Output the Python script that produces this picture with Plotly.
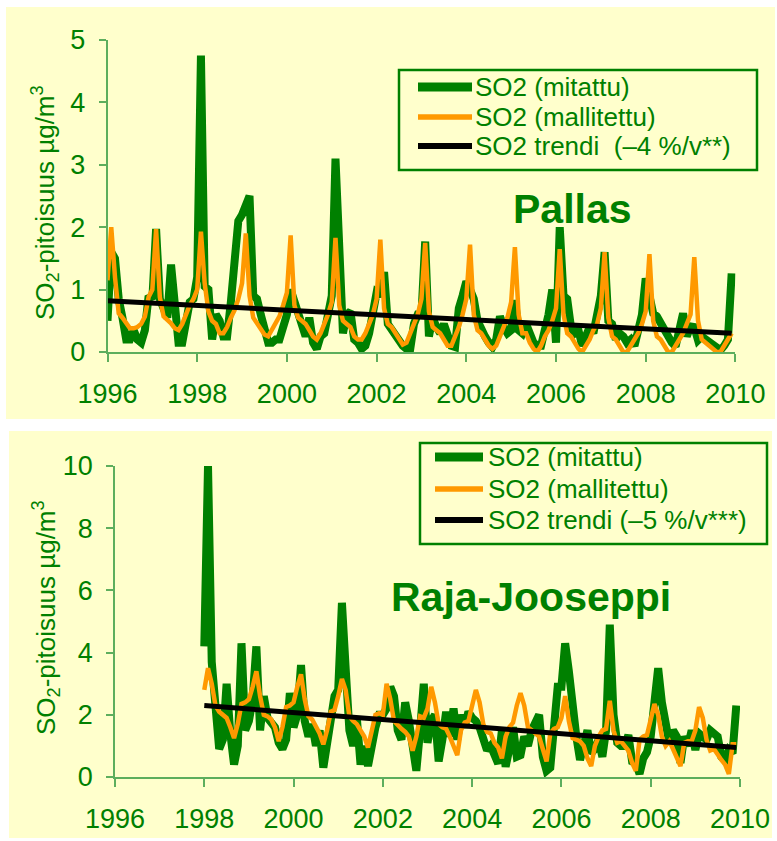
import plotly.graph_objects as go

# ---------------- data ----------------
pallas_years = list(range(1996, 2010))
pallas_measured = [
    0.5, 1.6, 1.5, 0.85, 0.55, 0.2, 0.2, 0.35, 0.2, 0.15, 0.35, 0.9,      # 1996
    0.85, 1.97, 0.85, 0.7, 0.55, 1.4, 0.6, 0.15, 0.15, 0.45, 0.8, 0.85,   # 1997
    1.2, 4.75, 1.05, 1.0, 0.2, 0.6, 0.5, 0.25, 0.25, 0.8, 1.37, 2.1,      # 1998
    2.2, 2.35, 2.5, 0.9, 0.85, 0.6, 0.3, 0.15, 0.15, 0.2, 0.2, 0.45,      # 1999
    0.6, 1.0, 0.8, 0.6, 0.5, 0.25, 0.55, 0.15, 0.05, 0.25, 0.3, 0.7,      # 2000
    0.9, 3.1, 1.3, 0.3, 0.6, 0.65, 0.2, 0.15, 0.05, 0.1, 0.3, 0.6,        # 2001
    0.95, 0.9, 1.28, 0.45, 0.35, 0.3, 0.2, 0.1, 0.05, 0.05, 0.45, 0.6,    # 2002
    0.6, 1.77, 0.25, 0.55, 0.4, 0.3, 0.45, 0.25, 0.1, 0.08, 0.7, 0.9,     # 2003
    1.13, 1.0, 0.85, 0.5, 0.35, 0.25, 0.15, 0.08, 0.2, 0.57, 0.4, 0.3,    # 2004
    0.35, 0.83, 0.35, 0.3, 0.45, 0.3, 0.15, 0.1, 0.1, 0.35, 0.6, 1.0,     # 2005
    0.15, 2.0, 0.9, 0.85, 0.4, 0.3, 0.35, 0.1, 0.25, 0.4, 0.3, 0.55,      # 2006
    0.9, 1.6, 0.5, 0.45, 0.2, 0.3, 0.25, 0.15, 0.2, 0.1, 0.3, 0.6,        # 2007
    1.18, 0.8, 0.62, 0.57, 0.45, 0.35, 0.2, 0.15, 0.09, 0.35, 0.62, 0.25, # 2008
    0.41, 0.4, 0.19, 0.25, 0.2, 0.15, 0.1, 0.05, 0.03, 0.1, 0.2, 1.26,    # 2009
]
pallas_modelled = [
    1.15, 2.0, 1.2, 0.62, 0.55, 0.45, 0.38, 0.38, 0.4, 0.45, 0.57, 0.88,  # 1996
    1.0, 1.97, 0.88, 0.57, 0.52, 0.46, 0.38, 0.35, 0.45, 0.6, 0.75, 0.85, # 1997
    1.0, 1.93, 1.1, 0.65, 0.5, 0.45, 0.3, 0.3, 0.4, 0.55, 0.67, 0.85,     # 1998
    1.1, 1.9, 0.9, 0.55, 0.45, 0.35, 0.28, 0.25, 0.35, 0.45, 0.57, 0.75,  # 1999
    0.95, 1.87, 0.75, 0.55, 0.5, 0.45, 0.35, 0.25, 0.2, 0.3, 0.45, 0.6,   # 2000
    0.8, 1.83, 0.75, 0.5, 0.45, 0.4, 0.25, 0.2, 0.2, 0.3, 0.45, 0.6,      # 2001
    0.85, 1.8, 0.7, 0.45, 0.4, 0.3, 0.2, 0.12, 0.15, 0.3, 0.45, 0.6,      # 2002
    0.85, 1.75, 0.65, 0.4, 0.35, 0.3, 0.2, 0.1, 0.1, 0.25, 0.4, 0.6,      # 2003
    0.85, 1.72, 0.6, 0.35, 0.3, 0.2, 0.1, 0.05, 0.1, 0.25, 0.4, 0.55,     # 2004
    0.8, 1.68, 0.6, 0.3, 0.3, 0.15, 0.05, 0.0, 0.1, 0.25, 0.35, 0.5,      # 2005
    0.7, 1.65, 0.6, 0.3, 0.25, 0.15, 0.05, 0.0, 0.1, 0.2, 0.35, 0.45,     # 2006
    0.7, 1.6, 0.55, 0.25, 0.2, 0.1, 0.0, 0.0, 0.1, 0.2, 0.3, 0.45,        # 2007
    0.65, 1.57, 0.5, 0.25, 0.2, 0.1, 0.0, 0.0, 0.1, 0.2, 0.3, 0.45,       # 2008
    0.6, 1.52, 0.5, 0.2, 0.15, 0.1, 0.05, 0.0, 0.0, 0.1, 0.2, 0.3,        # 2009
]
pallas_trend = [0.82, 0.30]   # first and last month

raja_years = list(range(1998, 2010))
raja_measured = [
    4.2, 10.0, 3.7, 2.2, 0.9, 1.2, 3.0, 1.4, 0.4, 1.0, 4.3, 1.5,         # 1998
    1.8, 2.5, 4.2, 1.5, 2.6, 1.9, 1.7, 1.6, 1.1, 0.9, 1.2, 2.7,          # 1999
    1.6, 2.0, 3.6, 1.8, 1.3, 1.7, 1.0, 1.5, 0.3, 1.0, 1.8, 2.6,          # 2000
    2.8, 5.6, 3.5, 1.5, 1.0, 1.9, 0.4, 1.0, 0.35, 1.2, 1.6, 2.0,         # 2001
    2.0, 2.2, 2.9, 2.6, 1.5, 1.2, 2.4, 1.8, 0.9, 0.2, 1.5, 3.0,          # 2002
    1.1, 1.8, 2.0, 0.5, 1.2, 2.1, 1.3, 2.2, 1.2, 2.0, 1.6, 2.1,          # 2003
    1.9, 1.8, 1.6, 1.2, 0.86, 1.0, 0.65, 0.43, 1.5, 0.33, 0.9, 1.6,      # 2004
    0.65, 0.7, 1.3, 1.0, 1.5, 1.7, 2.0, 0.65, 0.2, 0.3, 1.8, 2.9,        # 2005
    2.9, 4.3, 3.4, 2.1, 1.3, 0.55, 1.0, 1.5, 0.76, 0.9, 1.2, 0.65,       # 2006
    1.5, 4.9, 2.0, 1.1, 1.0, 1.0, 1.35, 0.5, 0.45, 0.1, 0.6, 0.8,        # 2007
    1.3, 2.8, 3.5, 2.4, 1.7, 1.1, 1.5, 1.3, 0.45, 1.3, 1.0, 1.5,         # 2008
    0.87, 1.4, 1.3, 1.2, 1.5, 1.4, 1.3, 0.65, 0.55, 0.87, 0.76, 2.3,     # 2009
]
raja_modelled = [
    2.8, 3.5, 3.0, 2.3, 2.1, 2.0, 1.9, 1.6, 1.25, 1.7, 2.35, 2.4,        # 1998
    2.5, 2.9, 3.4, 2.6, 2.0, 1.95, 1.85, 1.6, 1.15, 1.6, 2.25, 2.3,      # 1999
    2.4, 2.9, 3.3, 2.5, 1.95, 1.85, 1.6, 1.4, 1.05, 1.5, 2.1, 2.15,      # 2000
    2.6, 3.15, 2.8, 1.95, 1.8, 1.7, 1.5, 1.3, 0.95, 1.5, 2.0, 2.05,      # 2001
    2.0, 3.0, 2.5, 1.8, 1.65, 1.55, 1.45, 1.3, 0.85, 1.3, 1.95, 1.9,     # 2002
    2.2, 2.9, 2.4, 1.7, 1.6, 1.55, 1.3, 1.0, 0.7, 1.5, 1.75, 1.8,        # 2003
    2.3, 2.8, 2.4, 1.7, 1.45, 1.4, 1.1, 0.95, 0.6, 1.3, 1.6, 1.75,       # 2004
    2.3, 2.7, 2.3, 1.6, 1.5, 1.4, 1.3, 0.9, 0.5, 1.4, 1.55, 1.6,         # 2005
    1.9, 2.6, 1.8, 1.25, 1.2, 1.15, 1.0, 0.6, 0.35, 1.0, 1.3, 1.5,       # 2006
    1.55, 2.45, 1.5, 1.1, 1.15, 1.0, 0.85, 0.45, 0.2, 1.2, 1.3, 1.35,    # 2007
    1.8, 2.35, 2.0, 1.3, 1.0, 1.15, 0.9, 0.6, 0.35, 1.1, 1.15, 1.15,     # 2008
    1.5, 2.25, 1.9, 1.2, 0.85, 0.9, 0.7, 0.55, 0.4, 0.1, 1.05, 1.05,     # 2009
]
raja_trend = [2.3, 0.95]

x_ticks = list(range(1996, 2011, 2))
series_names = ["SO2 (mitattu)", "SO2 (mallitettu)"]
trend_names = ["SO2 trendi\u00a0\u00a0(\u20134 %/v**)", "SO2 trendi (\u20135 %/v***)"]
titles = ["Pallas", "Raja-Jooseppi"]

# ---------------- styling ----------------
W, H = 777, 841
GREEN = "#008000"
ORANGE = "#FF9900"
AXIS = "#5DAE5D"
BG = "#FFFFCC"
FONT = "Liberation Sans, Arial, sans-serif"
COLORS = [GREEN, ORANGE, "black"]
WIDTHS = [8, 4.5, 5]


def months(years):
    return [y + m / 12 for y in years for m in range(12)]


def fx(p):
    return p / W


def fy(p):
    return 1 - p / H


px_ = months(pallas_years)
rx_ = months(raja_years)

fig = go.Figure()


def add_station(xs, meas, model, trend, trend_name, xa, ya):
    names = series_names + [trend_name]
    xs_list = [xs, xs, [xs[0], xs[-1]]]
    ys_list = [meas, model, trend]
    for i in range(3):
        fig.add_trace(go.Scatter(x=xs_list[i], y=ys_list[i], mode="lines", name=names[i],
                                 line=dict(color=COLORS[i], width=WIDTHS[i]),
                                 xaxis=xa, yaxis=ya, showlegend=False))


add_station(px_, pallas_measured, pallas_modelled, pallas_trend, trend_names[0], "x", "y")
add_station(rx_, raja_measured, raja_modelled, raja_trend, trend_names[1], "x2", "y2")

xaxis_common = dict(range=[1996, 2010], tickvals=x_ticks, ticks="outside", ticklen=8,
                    tickcolor=AXIS, tickwidth=1.5, showline=True, linecolor=AXIS, linewidth=1.5,
                    showgrid=False, zeroline=False, ticklabelstandoff=9, automargin=False,
                    tickfont=dict(family=FONT, size=27, color=GREEN))
yaxis_common = dict(ticks="outside", ticklen=7, tickcolor=AXIS, tickwidth=1.5,
                    showline=True, linecolor=AXIS, linewidth=1.5, showgrid=False,
                    zeroline=False, ticklabelstandoff=8, automargin=False,
                    tickfont=dict(family=FONT, size=27, color=GREEN))

shapes = [
    dict(type="rect", xref="paper", yref="paper", x0=fx(6), x1=fx(775), y0=fy(419), y1=fy(7),
         fillcolor=BG, line=dict(width=0), layer="below"),
    dict(type="rect", xref="paper", yref="paper", x0=fx(9), x1=fx(772), y0=fy(838), y1=fy(431),
         fillcolor=BG, line=dict(width=0), layer="below"),
]
annotations = [
    dict(text="<b>" + titles[0] + "</b>", x=fx(572), y=fy(209), xref="paper", yref="paper",
         xanchor="center", yanchor="middle", showarrow=False,
         font=dict(family=FONT, size=41, color=GREEN)),
    dict(text="<b>" + titles[1] + "</b>", x=fx(531), y=fy(597), xref="paper", yref="paper",
         xanchor="center", yanchor="middle", showarrow=False,
         font=dict(family=FONT, size=41, color=GREEN)),
    dict(text="SO<sub>2</sub>-pitoisuus µg/m<sup>3</sup>", x=fx(45), y=fy(203),
         xref="paper", yref="paper", xanchor="center", yanchor="middle", textangle=-90,
         showarrow=False, font=dict(family=FONT, size=26, color=GREEN)),
    dict(text="SO<sub>2</sub>-pitoisuus µg/m<sup>3</sup>", x=fx(46), y=fy(618),
         xref="paper", yref="paper", xanchor="center", yanchor="middle", textangle=-90,
         showarrow=False, font=dict(family=FONT, size=26, color=GREEN)),
]


# legend boxes (drawn as shapes + text): box (x0, y0, x1, y1), sample x-range, text x, row ys
def add_legend(box, sx0, sx1, tx, rows, names):
    shapes.append(dict(type="rect", xref="paper", yref="paper", x0=fx(box[0]), x1=fx(box[2]),
                       y0=fy(box[3]), y1=fy(box[1]), fillcolor=BG,
                       line=dict(color=GREEN, width=2.5), layer="above"))
    for i, ry in enumerate(rows):
        shapes.append(dict(type="line", xref="paper", yref="paper", x0=fx(sx0), x1=fx(sx1),
                           y0=fy(ry), y1=fy(ry), line=dict(color=COLORS[i], width=WIDTHS[i] + 1),
                           layer="above"))
        annotations.append(dict(text=names[i], x=fx(tx), y=fy(ry), xref="paper", yref="paper",
                                xanchor="left", yanchor="middle", showarrow=False,
                                font=dict(family=FONT, size=26, color=GREEN)))


add_legend((399, 70, 757, 170), 418, 472, 473, [87, 117, 146], series_names + [trend_names[0]])
add_legend((420, 443, 767, 544), 435, 483, 486, [457, 489, 520], series_names + [trend_names[1]])

fig.update_layout(
    width=W, height=H,
    margin=dict(l=0, r=0, t=0, b=0, autoexpand=False),
    paper_bgcolor="white", plot_bgcolor="rgba(0,0,0,0)",
    font=dict(family=FONT, color=GREEN),
    showlegend=False,
    xaxis=dict(domain=[fx(107.5), fx(735.4)], anchor="y", **xaxis_common),
    yaxis=dict(domain=[fy(352), fy(40)], anchor="x", range=[0, 5], dtick=1, **yaxis_common),
    xaxis2=dict(domain=[fx(115), fx(740)], anchor="y2", **xaxis_common),
    yaxis2=dict(domain=[fy(777), fy(466)], anchor="x2", range=[0, 10], dtick=2, **yaxis_common),
    shapes=shapes,
    annotations=annotations,
)

fig.write_html("out.html")
